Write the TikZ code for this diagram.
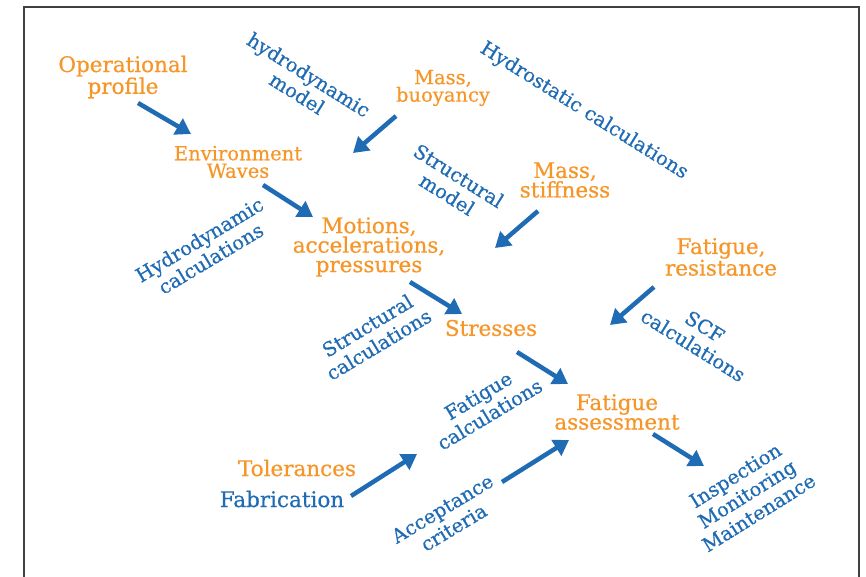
\documentclass[tikz,border=0pt]{standalone}
\usepackage{fontspec}
\setmainfont{DejaVu Serif}
\newfontfamily\lblfont{DejaVu Serif}[FakeBold=0.6]
\usepackage{xcolor}
\usepackage{tikz}
\usetikzlibrary{arrows.meta}

\definecolor{orng}{RGB}{247,150,40}
\definecolor{blu}{RGB}{31,108,180}

\begin{document}
\begin{tikzpicture}[x=1pt, y=-1pt,
    qty/.style={text=orng, align=center, inner sep=0pt, font=\lblfont\fontsize{21.5}{19.5}\selectfont},
    qtysmall/.style={qty, font=\lblfont\fontsize{19.5}{17.5}\selectfont},
    tool/.style={text=blu, align=center, inner sep=0pt, font=\lblfont\fontsize{19.5}{22}\selectfont},
    flow/.style={draw=blu, line width=4.5pt, -{Triangle[length=15pt,width=18pt]}}]
  % page and frame
  \useasboundingbox (0,0) rectangle (866,577);
  \draw[line width=1.5pt, black!75] (24,577) |- (859,7) -- (859,577);

  % quantities (orange)
  \node[qty] (oper) at (123,77) {Operational\\profile};
  \node[qtysmall] (env) at (238,162) {Environment\\Waves};
  \node[qtysmall] (buoy) at (443,88) {Mass,\\buoyancy};
  \node[qty] (stiff) at (565,180) {Mass,\\stiffness};
  \node[qty] (motion) at (369,247) {Motions,\\accelerations,\\pressures};
  \node[qty] (resist) at (721,257) {Fatigue,\\resistance};
  \node[qty] (stress) at (491,328) {Stresses};
  \node[qty] (assess) at (617,412) {Fatigue\\assessment};
  \node[qty] (toler) at (297,468) {Tolerances};

  % models and calculations (blue)
  \node[tool, font=\lblfont\fontsize{21.5}{22}\selectfont] (fabr) at (282,499) {Fabrication};
  \node[tool, rotate=-32] (hmodel) at (303,84) {hydrodynamic\\model};
  \node[tool, rotate=-32] (hstat) at (584,111) {Hydrostatic calculations};
  \node[tool, rotate=-32] (smodel) at (453,185) {Structural\\model};
  \node[tool, rotate=31] (hcalc) at (205,249) {Hydrodynamic\\calculations};
  \node[tool, rotate=31] (scalc) at (373,335) {Structural\\calculations};
  \node[tool, rotate=-32] (scf) at (699,336) {SCF\\calculations};
  \node[tool, rotate=31] (fcalc) at (484,405) {Fatigue\\calculations};
  \node[tool, rotate=31] (accept) at (448,518) {Acceptance\\criteria};
  \node[tool, rotate=32] (insp) at (747,494) {Inspection\\Monitoring\\Maintenance};

  % arrow ends
  \coordinate (oper-out) at (138,103);   \coordinate (env-in) at (191,134);
  \coordinate (buoy-out) at (396,116);   \coordinate (buoy-in) at (353,153);
  \coordinate (env-out) at (263,185);    \coordinate (motion-in) at (313,217);
  \coordinate (stiff-out) at (538,211);  \coordinate (stiff-in) at (495,248);
  \coordinate (motion-out) at (410,282); \coordinate (stress-in) at (462,314);
  \coordinate (resist-out) at (654,287); \coordinate (resist-in) at (610,325);
  \coordinate (stress-out) at (517,352); \coordinate (assess-in) at (568,384);
  \coordinate (fabr-out) at (351,496);   \coordinate (fabr-in) at (417,454);
  \coordinate (accept-out) at (502,482); \coordinate (accept-in) at (569,440);
  \coordinate (assess-out) at (653,434); \coordinate (insp-in) at (704,466);

  % arrows
  \draw[flow] (oper-out) -- (env-in);
  \draw[flow] (buoy-out) -- (buoy-in);
  \draw[flow] (env-out) -- (motion-in);
  \draw[flow] (stiff-out) -- (stiff-in);
  \draw[flow] (motion-out) -- (stress-in);
  \draw[flow] (resist-out) -- (resist-in);
  \draw[flow] (stress-out) -- (assess-in);
  \draw[flow] (fabr-out) -- (fabr-in);
  \draw[flow] (accept-out) -- (accept-in);
  \draw[flow] (assess-out) -- (insp-in);
\end{tikzpicture}
\end{document}
